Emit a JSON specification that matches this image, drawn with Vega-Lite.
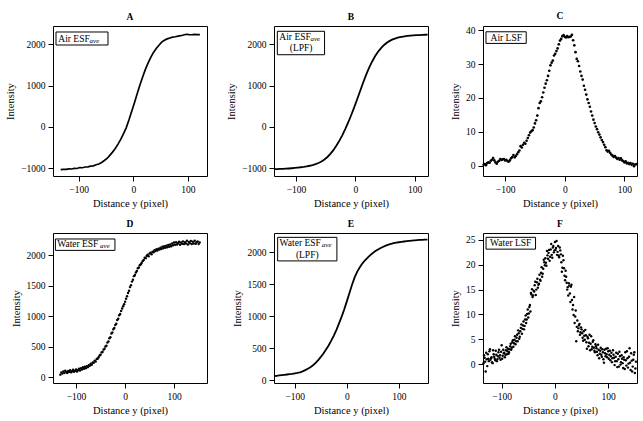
{
"$schema": "https://vega.github.io/schema/vega-lite/v6.json",
"background": "white",
"padding": {"left": 5, "top": 10, "right": 5, "bottom": 5},
"config": {
  "font": "Liberation Serif",
  "numberFormat": "d",
  "view": {"stroke": "black", "strokeWidth": 1},
  "axis": {"grid": false, "domain": false, "tickColor": "black", "tickSize": 5, "labelColor": "black", "titleColor": "black", "labelFontSize": 9.5, "titleFontSize": 10.5, "titleFontWeight": "normal", "labelPadding": 3, "titlePadding": 5},
  "title": {"fontSize": 9.5, "fontWeight": "bold", "offset": 5, "anchor": "middle", "color": "black"}
},
"columns": 3,
"spacing": {"row": 8, "column": 18},
"datasets": {
  "A": [
    {"x":-133,"y":-1035},{"x":-128,"y":-1028},{"x":-123,"y":-1030},{"x":-118,"y":-1018},{"x":-113,"y":-1020},{"x":-108,"y":-1005},{"x":-103,"y":-1008},{"x":-98,"y":-985},{"x":-93,"y":-990},{"x":-88,"y":-972},{"x":-83,"y":-968},{"x":-78,"y":-950},{"x":-73,"y":-945},{"x":-68,"y":-918},{"x":-63,"y":-900},{"x":-58,"y":-862},{"x":-53,"y":-815},{"x":-48,"y":-765},{"x":-43,"y":-690},{"x":-38,"y":-612},{"x":-33,"y":-525},{"x":-28,"y":-418},{"x":-23,"y":-305},{"x":-18,"y":-168},{"x":-13,"y":-25},{"x":-8,"y":165},{"x":-3,"y":372},{"x":2,"y":578},{"x":7,"y":795},{"x":12,"y":1004},{"x":17,"y":1200},{"x":22,"y":1385},{"x":27,"y":1540},{"x":32,"y":1680},{"x":37,"y":1800},{"x":42,"y":1895},{"x":47,"y":1975},{"x":52,"y":2050},{"x":57,"y":2095},{"x":62,"y":2128},{"x":67,"y":2150},{"x":72,"y":2172},{"x":77,"y":2180},{"x":82,"y":2195},{"x":87,"y":2205},{"x":92,"y":2222},{"x":97,"y":2240},{"x":102,"y":2232},{"x":107,"y":2228},{"x":112,"y":2236},{"x":117,"y":2230},{"x":122,"y":2232}
  ],
  "B": [
    {"x":-137,"y":-1025},{"x":-132,"y":-1023},{"x":-127,"y":-1020},{"x":-122,"y":-1017},{"x":-117,"y":-1013},{"x":-112,"y":-1008},{"x":-107,"y":-1002},{"x":-102,"y":-995},{"x":-97,"y":-987},{"x":-92,"y":-978},{"x":-87,"y":-968},{"x":-82,"y":-956},{"x":-77,"y":-942},{"x":-72,"y":-925},{"x":-67,"y":-903},{"x":-62,"y":-875},{"x":-57,"y":-838},{"x":-52,"y":-790},{"x":-47,"y":-730},{"x":-42,"y":-655},{"x":-37,"y":-565},{"x":-32,"y":-460},{"x":-27,"y":-340},{"x":-22,"y":-205},{"x":-17,"y":-55},{"x":-12,"y":105},{"x":-7,"y":280},{"x":-2,"y":465},{"x":3,"y":660},{"x":8,"y":860},{"x":13,"y":1060},{"x":18,"y":1250},{"x":23,"y":1420},{"x":28,"y":1570},{"x":33,"y":1700},{"x":38,"y":1810},{"x":43,"y":1900},{"x":48,"y":1975},{"x":53,"y":2035},{"x":58,"y":2080},{"x":63,"y":2115},{"x":68,"y":2142},{"x":73,"y":2163},{"x":78,"y":2178},{"x":83,"y":2190},{"x":88,"y":2199},{"x":93,"y":2206},{"x":98,"y":2212},{"x":103,"y":2217},{"x":108,"y":2221},{"x":113,"y":2225},{"x":118,"y":2228},{"x":122,"y":2230}
  ],
  "C": [
    {"x":-136,"y":0.3},{"x":-134,"y":0.5},{"x":-132,"y":0.2},{"x":-130,"y":0.8},{"x":-128,"y":1.0},{"x":-126,"y":0.9},{"x":-124,"y":1.5},{"x":-122,"y":1.8},{"x":-120,"y":2.3},{"x":-118,"y":1.6},{"x":-116,"y":1.0},{"x":-114,"y":0.6},{"x":-112,"y":1.2},{"x":-110,"y":1.5},{"x":-108,"y":2.0},{"x":-106,"y":1.7},{"x":-104,"y":1.9},{"x":-102,"y":2.0},{"x":-100,"y":1.6},{"x":-98,"y":1.8},{"x":-96,"y":1.4},{"x":-94,"y":1.2},{"x":-92,"y":1.6},{"x":-90,"y":2.2},{"x":-88,"y":2.6},{"x":-86,"y":3.2},{"x":-84,"y":2.5},{"x":-82,"y":2.9},{"x":-80,"y":3.4},{"x":-78,"y":4.0},{"x":-76,"y":4.5},{"x":-74,"y":5.8},{"x":-72,"y":5.4},{"x":-70,"y":6.2},{"x":-68,"y":6.8},{"x":-66,"y":6.5},{"x":-64,"y":7.4},{"x":-62,"y":8.2},{"x":-60,"y":9.0},{"x":-58,"y":9.8},{"x":-56,"y":10.2},{"x":-54,"y":10.5},{"x":-52,"y":11.3},{"x":-50,"y":12.5},{"x":-48,"y":13.4},{"x":-46,"y":14.8},{"x":-44,"y":17.0},{"x":-42,"y":18.5},{"x":-40,"y":19.0},{"x":-38,"y":20.2},{"x":-36,"y":21.6},{"x":-34,"y":23.0},{"x":-32,"y":24.2},{"x":-30,"y":25.2},{"x":-28,"y":26.5},{"x":-26,"y":28.0},{"x":-24,"y":29.6},{"x":-22,"y":30.4},{"x":-20,"y":31.0},{"x":-18,"y":32.5},{"x":-16,"y":33.0},{"x":-14,"y":33.8},{"x":-12,"y":34.6},{"x":-10,"y":35.8},{"x":-8,"y":36.9},{"x":-6,"y":37.4},{"x":-4,"y":38.2},{"x":-2,"y":38.5},{"x":0,"y":38.0},{"x":2,"y":37.8},{"x":4,"y":38.2},{"x":6,"y":37.9},{"x":8,"y":38.0},{"x":10,"y":38.1},{"x":12,"y":38.6},{"x":14,"y":37.0},{"x":16,"y":35.5},{"x":18,"y":33.5},{"x":20,"y":31.5},{"x":22,"y":30.8},{"x":24,"y":29.4},{"x":26,"y":27.8},{"x":28,"y":26.5},{"x":30,"y":25.4},{"x":32,"y":23.6},{"x":34,"y":22.4},{"x":36,"y":21.0},{"x":38,"y":19.6},{"x":40,"y":18.5},{"x":42,"y":17.4},{"x":44,"y":16.0},{"x":46,"y":14.8},{"x":48,"y":13.6},{"x":50,"y":12.6},{"x":52,"y":11.6},{"x":54,"y":10.8},{"x":56,"y":9.9},{"x":58,"y":9.2},{"x":60,"y":8.4},{"x":62,"y":7.6},{"x":64,"y":7.0},{"x":66,"y":6.2},{"x":68,"y":5.5},{"x":70,"y":4.6},{"x":72,"y":4.2},{"x":74,"y":4.4},{"x":76,"y":3.8},{"x":78,"y":3.3},{"x":80,"y":3.0},{"x":82,"y":2.6},{"x":84,"y":2.9},{"x":86,"y":2.4},{"x":88,"y":2.0},{"x":90,"y":2.3},{"x":92,"y":1.8},{"x":94,"y":2.2},{"x":96,"y":1.6},{"x":98,"y":1.4},{"x":100,"y":1.0},{"x":102,"y":1.3},{"x":104,"y":0.7},{"x":106,"y":0.9},{"x":108,"y":0.5},{"x":110,"y":0.8},{"x":112,"y":0.3},{"x":114,"y":0.6},{"x":116,"y":-0.1},{"x":118,"y":0.4},{"x":120,"y":0.5}
  ],
  "D": [
    {"x":-132,"y":45},{"x":-130,"y":80},{"x":-128,"y":62},{"x":-126,"y":95},{"x":-124,"y":70},{"x":-122,"y":110},{"x":-120,"y":88},{"x":-118,"y":72},{"x":-116,"y":105},{"x":-114,"y":90},{"x":-112,"y":118},{"x":-110,"y":85},{"x":-108,"y":100},{"x":-106,"y":125},{"x":-104,"y":92},{"x":-102,"y":110},{"x":-100,"y":130},{"x":-98,"y":98},{"x":-96,"y":118},{"x":-94,"y":140},{"x":-92,"y":112},{"x":-90,"y":150},{"x":-88,"y":128},{"x":-86,"y":165},{"x":-84,"y":142},{"x":-82,"y":175},{"x":-80,"y":150},{"x":-78,"y":185},{"x":-76,"y":168},{"x":-74,"y":200},{"x":-72,"y":190},{"x":-70,"y":225},{"x":-68,"y":208},{"x":-66,"y":245},{"x":-64,"y":240},{"x":-62,"y":275},{"x":-60,"y":262},{"x":-58,"y":300},{"x":-56,"y":305},{"x":-54,"y":330},{"x":-52,"y":358},{"x":-50,"y":372},{"x":-48,"y":410},{"x":-46,"y":415},{"x":-44,"y":455},{"x":-42,"y":470},{"x":-40,"y":505},{"x":-38,"y":520},{"x":-36,"y":570},{"x":-34,"y":590},{"x":-32,"y":640},{"x":-30,"y":660},{"x":-28,"y":720},{"x":-26,"y":735},{"x":-24,"y":790},{"x":-22,"y":810},{"x":-20,"y":860},{"x":-18,"y":880},{"x":-16,"y":940},{"x":-14,"y":960},{"x":-12,"y":1020},{"x":-10,"y":1040},{"x":-8,"y":1090},{"x":-6,"y":1130},{"x":-4,"y":1165},{"x":-2,"y":1200},{"x":0,"y":1240},{"x":2,"y":1290},{"x":4,"y":1330},{"x":6,"y":1385},{"x":8,"y":1420},{"x":10,"y":1480},{"x":12,"y":1510},{"x":14,"y":1570},{"x":16,"y":1600},{"x":18,"y":1660},{"x":20,"y":1680},{"x":22,"y":1720},{"x":24,"y":1745},{"x":26,"y":1790},{"x":28,"y":1800},{"x":30,"y":1840},{"x":32,"y":1855},{"x":34,"y":1880},{"x":36,"y":1910},{"x":38,"y":1925},{"x":40,"y":1960},{"x":42,"y":1955},{"x":44,"y":1990},{"x":46,"y":2010},{"x":48,"y":1985},{"x":50,"y":2030},{"x":52,"y":2045},{"x":54,"y":2020},{"x":56,"y":2060},{"x":58,"y":2050},{"x":60,"y":2085},{"x":62,"y":2070},{"x":64,"y":2100},{"x":66,"y":2080},{"x":68,"y":2110},{"x":70,"y":2095},{"x":72,"y":2125},{"x":74,"y":2105},{"x":76,"y":2140},{"x":78,"y":2118},{"x":80,"y":2150},{"x":82,"y":2125},{"x":84,"y":2160},{"x":86,"y":2135},{"x":88,"y":2170},{"x":90,"y":2140},{"x":92,"y":2180},{"x":94,"y":2150},{"x":96,"y":2195},{"x":98,"y":2165},{"x":100,"y":2210},{"x":102,"y":2175},{"x":104,"y":2215},{"x":106,"y":2180},{"x":108,"y":2200},{"x":110,"y":2225},{"x":112,"y":2175},{"x":114,"y":2210},{"x":116,"y":2190},{"x":118,"y":2230},{"x":120,"y":2185},{"x":122,"y":2215},{"x":124,"y":2195},{"x":126,"y":2240},{"x":128,"y":2180},{"x":130,"y":2220},{"x":132,"y":2200},{"x":134,"y":2235},{"x":136,"y":2185},{"x":138,"y":2225},{"x":140,"y":2195},{"x":142,"y":2240},{"x":144,"y":2190},{"x":146,"y":2215},{"x":148,"y":2230},{"x":150,"y":2185},{"x":152,"y":2210}
  ],
  "E": [
    {"x":-140,"y":65},{"x":-135,"y":70},{"x":-130,"y":75},{"x":-125,"y":80},{"x":-120,"y":85},{"x":-115,"y":90},{"x":-110,"y":95},{"x":-105,"y":100},{"x":-100,"y":106},{"x":-95,"y":115},{"x":-90,"y":125},{"x":-85,"y":140},{"x":-80,"y":158},{"x":-75,"y":180},{"x":-70,"y":205},{"x":-65,"y":235},{"x":-60,"y":272},{"x":-55,"y":316},{"x":-50,"y":365},{"x":-45,"y":420},{"x":-40,"y":480},{"x":-35,"y":545},{"x":-30,"y":620},{"x":-25,"y":700},{"x":-20,"y":790},{"x":-15,"y":890},{"x":-10,"y":995},{"x":-5,"y":1110},{"x":0,"y":1235},{"x":5,"y":1365},{"x":10,"y":1495},{"x":15,"y":1610},{"x":20,"y":1700},{"x":25,"y":1770},{"x":30,"y":1830},{"x":35,"y":1878},{"x":40,"y":1920},{"x":45,"y":1958},{"x":50,"y":1992},{"x":55,"y":2022},{"x":60,"y":2048},{"x":65,"y":2070},{"x":70,"y":2090},{"x":75,"y":2108},{"x":80,"y":2122},{"x":85,"y":2135},{"x":90,"y":2145},{"x":95,"y":2153},{"x":100,"y":2160},{"x":105,"y":2166},{"x":110,"y":2172},{"x":115,"y":2177},{"x":120,"y":2182},{"x":125,"y":2186},{"x":130,"y":2190},{"x":135,"y":2193},{"x":140,"y":2196},{"x":145,"y":2198},{"x":150,"y":2200},{"x":155,"y":2202}
  ],
  "F": [
    {"x":-134,"y":0.2},{"x":-132,"y":1.3},{"x":-130,"y":-1.5},{"x":-128,"y":1.0},{"x":-126,"y":2.0},{"x":-124,"y":0.6},{"x":-122,"y":3.0},{"x":-120,"y":1.2},{"x":-118,"y":0.4},{"x":-116,"y":2.8},{"x":-114,"y":1.5},{"x":-112,"y":0.8},{"x":-110,"y":1.9},{"x":-108,"y":1.0},{"x":-106,"y":2.4},{"x":-104,"y":1.3},{"x":-102,"y":0.9},{"x":-100,"y":3.8},{"x":-98,"y":1.7},{"x":-96,"y":2.2},{"x":-94,"y":1.4},{"x":-92,"y":2.8},{"x":-90,"y":2.0},{"x":-88,"y":3.1},{"x":-86,"y":2.4},{"x":-84,"y":3.6},{"x":-82,"y":2.9},{"x":-80,"y":4.4},{"x":-78,"y":3.5},{"x":-76,"y":4.9},{"x":-74,"y":4.0},{"x":-72,"y":5.3},{"x":-70,"y":4.6},{"x":-68,"y":6.2},{"x":-66,"y":5.5},{"x":-64,"y":7.3},{"x":-62,"y":6.1},{"x":-60,"y":7.8},{"x":-58,"y":7.0},{"x":-56,"y":9.0},{"x":-54,"y":8.3},{"x":-52,"y":10.1},{"x":-50,"y":9.4},{"x":-48,"y":11.5},{"x":-46,"y":10.6},{"x":-44,"y":14.0},{"x":-42,"y":13.5},{"x":-40,"y":14.8},{"x":-38,"y":15.9},{"x":-36,"y":13.9},{"x":-34,"y":16.5},{"x":-32,"y":15.4},{"x":-30,"y":16.2},{"x":-28,"y":17.0},{"x":-26,"y":18.4},{"x":-24,"y":17.6},{"x":-22,"y":19.2},{"x":-20,"y":20.5},{"x":-18,"y":21.3},{"x":-16,"y":19.8},{"x":-14,"y":21.9},{"x":-12,"y":22.4},{"x":-10,"y":20.8},{"x":-8,"y":23.1},{"x":-6,"y":22.0},{"x":-4,"y":23.5},{"x":-2,"y":22.5},{"x":0,"y":24.6},{"x":2,"y":23.4},{"x":4,"y":22.0},{"x":6,"y":23.8},{"x":8,"y":21.5},{"x":10,"y":22.9},{"x":12,"y":20.5},{"x":14,"y":19.4},{"x":16,"y":20.9},{"x":18,"y":17.8},{"x":20,"y":18.8},{"x":22,"y":16.4},{"x":24,"y":15.5},{"x":26,"y":16.3},{"x":28,"y":14.2},{"x":30,"y":15.6},{"x":32,"y":12.9},{"x":34,"y":11.9},{"x":36,"y":13.5},{"x":38,"y":9.6},{"x":40,"y":4.6},{"x":42,"y":8.8},{"x":44,"y":7.2},{"x":46,"y":8.1},{"x":48,"y":6.4},{"x":50,"y":7.0},{"x":52,"y":5.3},{"x":54,"y":6.6},{"x":56,"y":4.9},{"x":58,"y":5.8},{"x":60,"y":3.1},{"x":62,"y":5.2},{"x":64,"y":4.3},{"x":66,"y":2.8},{"x":68,"y":5.6},{"x":70,"y":3.5},{"x":72,"y":4.8},{"x":74,"y":2.7},{"x":76,"y":4.0},{"x":78,"y":3.2},{"x":80,"y":1.8},{"x":82,"y":2.9},{"x":84,"y":2.1},{"x":86,"y":3.3},{"x":88,"y":1.5},{"x":90,"y":2.4},{"x":92,"y":0.3},{"x":94,"y":2.2},{"x":96,"y":3.1},{"x":98,"y":1.4},{"x":100,"y":2.6},{"x":102,"y":1.9},{"x":104,"y":0.8},{"x":106,"y":2.3},{"x":108,"y":1.2},{"x":110,"y":1.9},{"x":112,"y":-0.2},{"x":114,"y":1.5},{"x":116,"y":0.6},{"x":118,"y":2.1},{"x":120,"y":-0.5},{"x":122,"y":1.6},{"x":124,"y":0.4},{"x":126,"y":1.1},{"x":128,"y":-0.8},{"x":130,"y":0.9},{"x":132,"y":2.4},{"x":134,"y":-0.3},{"x":136,"y":1.2},{"x":138,"y":0.1},{"x":140,"y":3.2},{"x":142,"y":-1.2},{"x":144,"y":0.7},{"x":146,"y":-0.5},{"x":148,"y":1.9},{"x":150,"y":-1.8},{"x":152,"y":0.5},
    {"x":-133,"y":1.8},{"x":-131,"y":0.5},{"x":-129,"y":2.3},{"x":-127,"y":-0.4},{"x":-125,"y":1.1},{"x":-123,"y":2.6},{"x":-121,"y":0.9},{"x":-119,"y":1.4},{"x":-117,"y":0.2},{"x":-115,"y":2.0},{"x":-113,"y":1.1},{"x":-111,"y":2.7},{"x":-109,"y":0.6},{"x":-107,"y":1.6},{"x":-105,"y":2.9},{"x":-103,"y":1.8},{"x":-101,"y":2.5},{"x":-99,"y":1.1},{"x":-97,"y":2.9},{"x":-95,"y":2.3},{"x":-93,"y":1.9},{"x":-91,"y":3.4},{"x":-89,"y":2.6},{"x":-87,"y":2.1},{"x":-85,"y":3.0},{"x":-83,"y":4.1},{"x":-81,"y":3.3},{"x":-79,"y":4.8},{"x":-77,"y":4.2},{"x":-75,"y":5.6},{"x":-73,"y":4.6},{"x":-71,"y":5.9},{"x":-69,"y":6.8},{"x":-67,"y":5.1},{"x":-65,"y":6.6},{"x":-63,"y":8.0},{"x":-61,"y":7.1},{"x":-59,"y":8.6},{"x":-57,"y":7.7},{"x":-55,"y":9.8},{"x":-53,"y":9.0},{"x":-51,"y":11.0},{"x":-49,"y":10.2},{"x":-47,"y":11.9},{"x":-45,"y":14.3},{"x":-43,"y":15.1},{"x":-41,"y":13.8},{"x":-39,"y":14.6},{"x":-37,"y":16.6},{"x":-35,"y":15.0},{"x":-33,"y":17.2},{"x":-31,"y":16.0},{"x":-29,"y":18.0},{"x":-27,"y":16.8},{"x":-25,"y":19.5},{"x":-23,"y":18.2},{"x":-21,"y":21.0},{"x":-19,"y":19.9},{"x":-17,"y":20.4},{"x":-15,"y":22.8},{"x":-13,"y":21.2},{"x":-11,"y":23.0},{"x":-9,"y":21.6},{"x":-7,"y":24.2},{"x":-5,"y":21.4},{"x":-3,"y":23.8},{"x":-1,"y":22.9},{"x":1,"y":23.0},{"x":3,"y":24.8},{"x":5,"y":22.6},{"x":7,"y":21.8},{"x":9,"y":23.5},{"x":11,"y":22.1},{"x":13,"y":18.6},{"x":15,"y":21.8},{"x":17,"y":19.3},{"x":19,"y":16.9},{"x":21,"y":17.6},{"x":23,"y":15.0},{"x":25,"y":13.8},{"x":27,"y":15.8},{"x":29,"y":12.5},{"x":31,"y":16.0},{"x":33,"y":11.0},{"x":35,"y":9.9},{"x":37,"y":8.3},{"x":39,"y":10.8},{"x":41,"y":7.5},{"x":43,"y":6.6},{"x":45,"y":7.8},{"x":47,"y":5.9},{"x":49,"y":7.4},{"x":51,"y":6.2},{"x":53,"y":4.7},{"x":55,"y":5.7},{"x":57,"y":6.9},{"x":59,"y":4.4},{"x":61,"y":5.5},{"x":63,"y":3.6},{"x":65,"y":5.9},{"x":67,"y":4.1},{"x":69,"y":3.0},{"x":71,"y":4.5},{"x":73,"y":3.3},{"x":75,"y":2.4},{"x":77,"y":3.6},{"x":79,"y":2.5},{"x":81,"y":3.9},{"x":83,"y":1.2},{"x":85,"y":2.7},{"x":87,"y":1.9},{"x":89,"y":3.0},{"x":91,"y":1.0},{"x":93,"y":2.9},{"x":95,"y":1.6},{"x":97,"y":2.0},{"x":99,"y":3.2},{"x":101,"y":1.1},{"x":103,"y":2.7},{"x":105,"y":1.6},{"x":107,"y":0.4},{"x":109,"y":2.8},{"x":111,"y":1.3},{"x":113,"y":0.6},{"x":115,"y":2.3},{"x":117,"y":-0.6},{"x":119,"y":1.0},{"x":121,"y":2.5},{"x":123,"y":-0.1},{"x":125,"y":1.8},{"x":127,"y":0.2},{"x":129,"y":1.4},{"x":131,"y":-1.0},{"x":133,"y":0.8},{"x":135,"y":2.6},{"x":137,"y":-0.7},{"x":139,"y":1.5},{"x":141,"y":0.3},{"x":143,"y":2.2},{"x":145,"y":-1.5},{"x":147,"y":0.9},{"x":149,"y":2.4},{"x":151,"y":-0.9}
  ],
  "boxes": [
    {"panel":"A","x":-141.5,"x2":-46.3,"y":2295,"y2":1980},
    {"panel":"B","x":-131.4,"x2":-51.8,"y":2312,"y2":1745},
    {"panel":"C","x":-132,"x2":-64.6,"y":39.5,"y2":36.07},
    {"panel":"D","x":-142.1,"x2":-20.7,"y":2269,"y2":2082},
    {"panel":"E","x":-133,"x2":-19.1,"y":2237,"y2":1868},
    {"panel":"F","x":-129.3,"x2":-36.4,"y":25.53,"y2":23.15}
  ],
  "labels": [
    {"panel":"A","kind":"main","x":-137.3,"y":2133,"t":"Air ESF"},
    {"panel":"A","kind":"sub","x":-80,"y":2085,"t":"ave"},
    {"panel":"B","kind":"main","x":-128,"y":2174,"t":"Air ESF"},
    {"panel":"B","kind":"sub","x":-75.5,"y":2130,"t":"ave"},
    {"panel":"B","kind":"center","x":-91.3,"y":1915,"t":"(LPF)"},
    {"panel":"C","kind":"center","x":-98,"y":37.73,"t":"Air LSF"},
    {"panel":"D","kind":"main","x":-138.4,"y":2187,"t":"Water ESF"},
    {"panel":"D","kind":"sub","x":-51,"y":2159,"t":"ave"},
    {"panel":"E","kind":"main","x":-129.2,"y":2142,"t":"Water ESF"},
    {"panel":"E","kind":"sub","x":-48.1,"y":2115,"t":"ave"},
    {"panel":"E","kind":"center","x":-76.1,"y":1962,"t":"(LPF)"},
    {"panel":"F","kind":"center","x":-83,"y":24.33,"t":"Water LSF"}
  ]
},
"concat": [
  {
    "title": "A", "width": 154, "height": 150,
    "encoding": {
      "x": {"field": "x", "type": "quantitative", "scale": {"domain": [-147, 135], "nice": false, "zero": false}, "axis": {"title": "Distance y (pixel)", "values": [-100, 0, 100]}},
      "y": {"field": "y", "type": "quantitative", "scale": {"domain": [-1190, 2440], "nice": false, "zero": false}, "axis": {"title": "Intensity", "values": [-1000, 0, 1000, 2000]}}
    },
    "layer": [
      {"data": {"name": "A"}, "mark": {"type": "line", "color": "black", "strokeWidth": 1.7}},
      {"data": {"name": "boxes"}, "transform": [{"filter": "datum.panel === 'A'"}], "mark": {"type": "rect", "fill": "white", "stroke": "black", "strokeWidth": 1}, "encoding": {"x2": {"field": "x2"}, "y2": {"field": "y2"}}},
      {"data": {"name": "labels"}, "transform": [{"filter": "datum.panel === 'A' && datum.kind === 'main'"}], "mark": {"type": "text", "align": "left", "baseline": "middle", "fontSize": 9.5, "color": "black"}, "encoding": {"text": {"field": "t"}}},
      {"data": {"name": "labels"}, "transform": [{"filter": "datum.panel === 'A' && datum.kind === 'sub'"}], "mark": {"type": "text", "align": "left", "baseline": "middle", "fontSize": 7, "fontStyle": "italic", "color": "black"}, "encoding": {"text": {"field": "t"}}}
    ]
  },
  {
    "title": "B", "width": 154, "height": 150,
    "encoding": {
      "x": {"field": "x", "type": "quantitative", "scale": {"domain": [-137, 122.5], "nice": false, "zero": false}, "axis": {"title": "Distance y (pixel)", "values": [-100, 0, 100]}},
      "y": {"field": "y", "type": "quantitative", "scale": {"domain": [-1190, 2440], "nice": false, "zero": false}, "axis": {"title": "Intensity", "values": [-1000, 0, 1000, 2000]}}
    },
    "layer": [
      {"data": {"name": "B"}, "mark": {"type": "line", "color": "black", "strokeWidth": 1.8}},
      {"data": {"name": "boxes"}, "transform": [{"filter": "datum.panel === 'B'"}], "mark": {"type": "rect", "fill": "white", "stroke": "black", "strokeWidth": 1}, "encoding": {"x2": {"field": "x2"}, "y2": {"field": "y2"}}},
      {"data": {"name": "labels"}, "transform": [{"filter": "datum.panel === 'B' && datum.kind === 'main'"}], "mark": {"type": "text", "align": "left", "baseline": "middle", "fontSize": 9.5, "color": "black"}, "encoding": {"text": {"field": "t"}}},
      {"data": {"name": "labels"}, "transform": [{"filter": "datum.panel === 'B' && datum.kind === 'sub'"}], "mark": {"type": "text", "align": "left", "baseline": "middle", "fontSize": 7, "fontStyle": "italic", "color": "black"}, "encoding": {"text": {"field": "t"}}},
      {"data": {"name": "labels"}, "transform": [{"filter": "datum.panel === 'B' && datum.kind === 'center'"}], "mark": {"type": "text", "align": "center", "baseline": "middle", "fontSize": 9.5, "color": "black"}, "encoding": {"text": {"field": "t"}}}
    ]
  },
  {
    "title": "C", "width": 154, "height": 150,
    "encoding": {
      "x": {"field": "x", "type": "quantitative", "scale": {"domain": [-137, 121], "nice": false, "zero": false}, "axis": {"title": "Distance y (pixel)", "values": [-100, 0, 100]}},
      "y": {"field": "y", "type": "quantitative", "scale": {"domain": [-3, 41.2], "nice": false, "zero": false}, "axis": {"title": "Intensity", "values": [0, 10, 20, 30, 40]}}
    },
    "layer": [
      {"data": {"name": "C"}, "mark": {"type": "circle", "color": "black", "size": 7, "opacity": 1}},
      {"data": {"name": "boxes"}, "transform": [{"filter": "datum.panel === 'C'"}], "mark": {"type": "rect", "fill": "white", "stroke": "black", "strokeWidth": 1}, "encoding": {"x2": {"field": "x2"}, "y2": {"field": "y2"}}},
      {"data": {"name": "labels"}, "transform": [{"filter": "datum.panel === 'C' && datum.kind === 'center'"}], "mark": {"type": "text", "align": "center", "baseline": "middle", "fontSize": 9.5, "color": "black"}, "encoding": {"text": {"field": "t"}}}
    ]
  },
  {
    "title": "D", "width": 154, "height": 150,
    "encoding": {
      "x": {"field": "x", "type": "quantitative", "scale": {"domain": [-147, 167], "nice": false, "zero": false}, "axis": {"title": "Distance y (pixel)", "values": [-100, 0, 100]}},
      "y": {"field": "y", "type": "quantitative", "scale": {"domain": [-92, 2367], "nice": false, "zero": false}, "axis": {"title": "Intensity", "values": [0, 500, 1000, 1500, 2000]}}
    },
    "layer": [
      {"data": {"name": "D"}, "mark": {"type": "circle", "color": "black", "size": 6, "opacity": 1}},
      {"data": {"name": "boxes"}, "transform": [{"filter": "datum.panel === 'D'"}], "mark": {"type": "rect", "fill": "white", "stroke": "black", "strokeWidth": 1}, "encoding": {"x2": {"field": "x2"}, "y2": {"field": "y2"}}},
      {"data": {"name": "labels"}, "transform": [{"filter": "datum.panel === 'D' && datum.kind === 'main'"}], "mark": {"type": "text", "align": "left", "baseline": "middle", "fontSize": 9.5, "color": "black"}, "encoding": {"text": {"field": "t"}}},
      {"data": {"name": "labels"}, "transform": [{"filter": "datum.panel === 'D' && datum.kind === 'sub'"}], "mark": {"type": "text", "align": "left", "baseline": "middle", "fontSize": 7, "fontStyle": "italic", "color": "black"}, "encoding": {"text": {"field": "t"}}}
    ]
  },
  {
    "title": "E", "width": 154, "height": 150,
    "encoding": {
      "x": {"field": "x", "type": "quantitative", "scale": {"domain": [-140, 156], "nice": false, "zero": false}, "axis": {"title": "Distance y (pixel)", "values": [-100, 0, 100]}},
      "y": {"field": "y", "type": "quantitative", "scale": {"domain": [-43, 2305], "nice": false, "zero": false}, "axis": {"title": "Intensity", "values": [0, 500, 1000, 1500, 2000]}}
    },
    "layer": [
      {"data": {"name": "E"}, "mark": {"type": "line", "color": "black", "strokeWidth": 1.8}},
      {"data": {"name": "boxes"}, "transform": [{"filter": "datum.panel === 'E'"}], "mark": {"type": "rect", "fill": "white", "stroke": "black", "strokeWidth": 1}, "encoding": {"x2": {"field": "x2"}, "y2": {"field": "y2"}}},
      {"data": {"name": "labels"}, "transform": [{"filter": "datum.panel === 'E' && datum.kind === 'main'"}], "mark": {"type": "text", "align": "left", "baseline": "middle", "fontSize": 9.5, "color": "black"}, "encoding": {"text": {"field": "t"}}},
      {"data": {"name": "labels"}, "transform": [{"filter": "datum.panel === 'E' && datum.kind === 'sub'"}], "mark": {"type": "text", "align": "left", "baseline": "middle", "fontSize": 7, "fontStyle": "italic", "color": "black"}, "encoding": {"text": {"field": "t"}}},
      {"data": {"name": "labels"}, "transform": [{"filter": "datum.panel === 'E' && datum.kind === 'center'"}], "mark": {"type": "text", "align": "center", "baseline": "middle", "fontSize": 9.5, "color": "black"}, "encoding": {"text": {"field": "t"}}}
    ]
  },
  {
    "title": "F", "width": 154, "height": 150,
    "encoding": {
      "x": {"field": "x", "type": "quantitative", "scale": {"domain": [-135, 154], "nice": false, "zero": false}, "axis": {"title": "Distance y (pixel)", "values": [-100, 0, 100]}},
      "y": {"field": "y", "type": "quantitative", "scale": {"domain": [-3.8, 26.4], "nice": false, "zero": false}, "axis": {"title": "Intensity", "values": [0, 5, 10, 15, 20, 25]}}
    },
    "layer": [
      {"data": {"name": "F"}, "mark": {"type": "circle", "color": "black", "size": 6, "opacity": 1}},
      {"data": {"name": "boxes"}, "transform": [{"filter": "datum.panel === 'F'"}], "mark": {"type": "rect", "fill": "white", "stroke": "black", "strokeWidth": 1}, "encoding": {"x2": {"field": "x2"}, "y2": {"field": "y2"}}},
      {"data": {"name": "labels"}, "transform": [{"filter": "datum.panel === 'F' && datum.kind === 'center'"}], "mark": {"type": "text", "align": "center", "baseline": "middle", "fontSize": 9.5, "color": "black"}, "encoding": {"text": {"field": "t"}}}
    ]
  }
]
}
